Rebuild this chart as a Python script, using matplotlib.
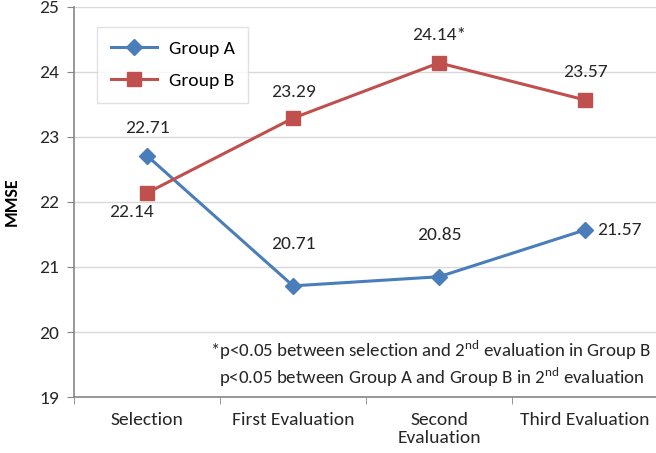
import matplotlib.pyplot as plt
import numpy as np

# データ
categories = ["Selection", "First Evaluation", "Second\nEvaluation", "Third Evaluation"]
group_a = [22.71, 20.71, 20.85, 21.57]
group_b = [22.14, 23.29, 24.14, 23.57]
labels_a = ["22.71", "20.71", "20.85", "21.57"]
labels_b = ["22.14", "23.29", "24.14*", "23.57"]
notes = ["*p<0.05 between selection and 2$^{\\rm nd}$ evaluation in Group B",
         "p<0.05 between Group A and Group B in 2$^{\\rm nd}$ evaluation"]

plt.rcParams["font.family"] = ["Carlito", "DejaVu Sans"]
plt.rcParams["mathtext.fontset"] = "custom"
plt.rcParams["mathtext.rm"] = "Carlito"

blue = "#4A7EBB"
red = "#C0504D"
txt = "#262626"

fig = plt.figure(figsize=(6.56, 4.53), dpi=100)
ax = fig.add_axes([0.113, 0.1236, 0.89, 0.861])

x = np.arange(len(categories))
ax.plot(x, group_a, color=blue, lw=2.2, marker="D", ms=8, label="Group A", zorder=3)
ax.plot(x, group_b, color=red, lw=2.2, marker="s", ms=10, label="Group B", zorder=3)

# ラベル位置 (offset points)
off_a = [(0, 20), (0, 30), (0, 30), (25, 0)]
off_b = [(-11, -14), (0, 19), (0, 20), (0, 20)]
for i in range(len(x)):
    ax.annotate(labels_a[i], (x[i], group_a[i]), xytext=off_a[i], textcoords="offset points",
                ha="center", va="center", fontsize=14, color=txt)
    ax.annotate(labels_b[i], (x[i], group_b[i]), xytext=off_b[i], textcoords="offset points",
                ha="center", va="center", fontsize=14, color=txt)

ax.set_xlim(-0.5, 3.5)
ax.set_ylim(19, 25)
ax.set_yticks(range(19, 26))
ax.set_xticks(x)
ax.set_xticklabels(categories, linespacing=1.1)
ax.set_xticks(np.arange(-0.5, 4, 1), minor=True)
ax.tick_params(axis="x", which="major", length=0, pad=11, labelsize=14, labelcolor=txt)
ax.tick_params(axis="x", which="minor", length=5, color="#868686", direction="out")
ax.tick_params(axis="y", length=5, color="#868686", pad=6, labelsize=14, labelcolor=txt)
ax.grid(axis="y", color="#D9D9D9", lw=1)
ax.set_axisbelow(True)
for s in ["top", "right"]:
    ax.spines[s].set_visible(False)
for s in ["left", "bottom"]:
    ax.spines[s].set_color("#868686")
    ax.spines[s].set_linewidth(1.2)

ax.set_ylabel("MMSE", fontsize=13, fontweight="bold", labelpad=14)

# 注記 (2行)
ax.text(0.610, 0.120, notes[0], transform=ax.transAxes, ha="center", va="center",
        fontsize=13.6, color=txt)
ax.text(0.612, 0.051, notes[1], transform=ax.transAxes, ha="center", va="center",
        fontsize=13.6, color=txt)

leg = ax.legend(loc="upper left", bbox_to_anchor=(0.039, 0.949), borderaxespad=0,
                fontsize=14, frameon=True, fancybox=False, edgecolor="#D9D9D9",
                borderpad=0.7, labelspacing=0.8, handlelength=2.4, handletextpad=0.6)
leg.get_frame().set_linewidth(1)

plt.savefig("out.png", dpi=100)
